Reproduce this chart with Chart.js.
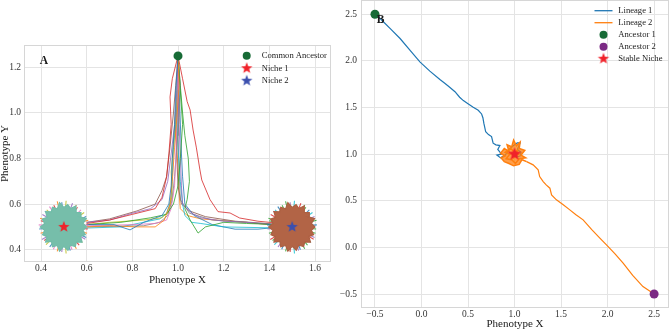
<!DOCTYPE html>
<html>
<head>
<meta charset="utf-8">
<script src="https://cdn.jsdelivr.net/npm/chart.js@4.4.1/dist/chart.umd.min.js"></script>
<style>
  html, body { margin: 0; padding: 0; background: #fff; }
  #wrap { position: relative; width: 669px; height: 330px; overflow: hidden; }
  #chartA { position: absolute; left: 0; top: 0; }
  #chartB { position: absolute; left: 335px; top: 0; }
</style>
</head>
<body>
<div id="wrap">
  <canvas id="chartA" width="336" height="290"></canvas>
  <canvas id="chartB" width="334" height="330"></canvas>
</div>
<script>
// ---- panel A data ----
const commonAncestor = [1.0, 1.25];
const niche1 = [0.5, 0.5];
const niche2 = [1.5, 0.5];

const pathsToNiche1 = [
  [[1,1.25],[0.99,1.1],[0.985,0.95],[0.975,0.8],[0.97,0.68],[0.96,0.6],[0.93,0.55],[0.85,0.52],[0.79,0.487],[0.72,0.51],[0.6,0.51]],
  [[1,1.25],[1.005,1.12],[0.995,0.98],[0.985,0.85],[0.975,0.7],[0.965,0.6],[0.94,0.53],[0.9,0.5],[0.82,0.5],[0.7,0.505],[0.6,0.5]],
  [[1,1.25],[1.01,1.1],[1.02,0.95],[1.01,0.8],[1.0,0.68],[0.98,0.6],[0.95,0.555],[0.88,0.54],[0.75,0.52],[0.6,0.51]],
  [[1,1.25],[0.975,1.15],[0.965,1.07],[0.97,0.95],[0.96,0.82],[0.95,0.72],[0.93,0.63],[0.9,0.58],[0.8,0.555],[0.7,0.53],[0.6,0.515]],
  [[1,1.25],[0.995,1.1],[0.985,0.95],[0.97,0.82],[0.955,0.7],[0.93,0.62],[0.88,0.58],[0.8,0.56],[0.7,0.53],[0.6,0.52]],
  [[1,1.25],[0.99,1.12],[0.98,1.0],[0.965,0.85],[0.95,0.72],[0.93,0.66],[0.9,0.6],[0.82,0.57],[0.7,0.535],[0.6,0.52]],
  [[1,1.25],[1.0,1.1],[0.995,0.95],[0.99,0.8],[0.985,0.68],[0.97,0.58],[0.95,0.53],[0.9,0.515],[0.8,0.51],[0.6,0.505]],
  [[1,1.25],[1.01,1.12],[1.005,0.98],[0.995,0.85],[0.985,0.72],[0.975,0.62],[0.955,0.55],[0.92,0.52],[0.85,0.505],[0.6,0.5]],
  [[1,1.25],[1.0,1.15],[0.99,1.0],[0.98,0.86],[0.97,0.74],[0.975,0.64],[0.96,0.57],[0.93,0.54],[0.85,0.53],[0.7,0.52],[0.6,0.51]],
  [[1,1.25],[0.995,1.1],[0.99,0.96],[0.98,0.84],[0.975,0.72],[0.97,0.62],[0.95,0.56],[0.92,0.535],[0.75,0.5],[0.6,0.495]]
];
const pathsToNiche2 = [
  [[1,1.25],[1.02,1.15],[1.04,1.05],[1.053,1.013],[1.066,0.925],[1.08,0.85],[1.096,0.75],[1.104,0.706],[1.14,0.62],[1.175,0.567],[1.228,0.561],[1.27,0.539],[1.35,0.525],[1.45,0.515]],
  [[1,1.25],[1.01,1.12],[1.02,1.0],[1.03,0.9],[1.045,0.8],[1.05,0.7],[1.04,0.62],[1.03,0.58],[1.053,0.53],[1.088,0.473],[1.12,0.5],[1.2,0.52],[1.3,0.515],[1.45,0.51]],
  [[1,1.25],[1.0,1.1],[1.005,0.95],[1.01,0.8],[1.015,0.68],[1.02,0.6],[1.06,0.56],[1.1,0.54],[1.2,0.525],[1.3,0.52],[1.45,0.51]],
  [[1,1.25],[1.0,1.12],[0.995,0.98],[1.0,0.84],[1.01,0.7],[1.02,0.6],[1.03,0.55],[1.06,0.52],[1.1,0.515],[1.2,0.5],[1.45,0.495]],
  [[1,1.25],[1.005,1.1],[1.01,0.96],[1.015,0.82],[1.02,0.72],[1.03,0.6],[1.07,0.55],[1.15,0.51],[1.25,0.49],[1.35,0.49],[1.45,0.5]],
  [[1,1.25],[1.0,1.05],[1.0,0.9],[1.005,0.75],[1.01,0.62],[1.05,0.56],[1.15,0.53],[1.3,0.52],[1.45,0.505]],
  [[1,1.25],[1.0,1.1],[0.99,0.95],[0.995,0.8],[1.0,0.68],[1.015,0.6],[1.05,0.57],[1.12,0.545],[1.25,0.525],[1.45,0.51]],
  [[1,1.25],[0.995,1.08],[0.99,0.92],[1.0,0.76],[1.005,0.64],[1.01,0.58],[1.04,0.55],[1.1,0.535],[1.3,0.52],[1.45,0.505]]
];

// scatter cloud around each niche (offsets from the niche centre)
const cloudOutline = [
  [0.1,0],[0.084,0.015],[0.098,0.036],[0.074,0.043],[0.075,0.063],[0.054,0.064],
  [0.053,0.092],[0.029,0.081],[0.017,0.098],[0,0.085],[-0.019,0.106],[-0.029,0.079],
  [-0.05,0.086],[-0.055,0.066],[-0.08,0.067],[-0.073,0.042],[-0.094,0.034],[-0.084,0.015],
  [-0.103,0],[-0.084,-0.015],[-0.093,-0.034],[-0.074,-0.043],[-0.08,-0.067],[-0.054,-0.064],
  [-0.05,-0.087],[-0.029,-0.081],[-0.019,-0.106],[0,-0.085],[0.018,-0.102],[0.029,-0.08],
  [0.05,-0.086],[0.055,-0.066],[0.08,-0.067],[0.073,-0.042],[0.094,-0.034],[0.084,-0.015],
  [0.1,0]
];
const cloudTips1 = [[0.107,0.029],[-0.029,0.112],[-0.102,-0.028],[-0.029,-0.107],[0.055,-0.096],[0.102,-0.028],[0.055,0.096],[-0.104,0.038]];
const cloudTips2 = [[0.089,0.063],[0.01,0.115],[-0.075,0.075],[-0.078,-0.078],[0.01,-0.117],[0.081,-0.068]];
const cloudTips3 = [[0.075,0.075],[-0.063,0.089],[-0.11,0.009],[-0.046,-0.098],[0.036,-0.1],[0.108,0.009]];
const cloudTips4 = [[0.038,0.104],[-0.094,0.054],[-0.096,-0.055],[-0.009,-0.11],[0.094,-0.054]];
const cloudTips5 = [[0.098,0.046],[-0.009,0.108],[-0.083,0.069],[-0.108,-0.009],[-0.062,-0.088],[0.028,-0.104],[0.098,-0.046]];
const cloudTips6 = [[0.06,0.086],[-0.044,0.095],[-0.101,0.027],[-0.086,-0.06],[-0.015,-0.104],[0.067,-0.08],[0.105,-0.009]];

const xTicksA = [0.4, 0.6, 0.8, 1.0, 1.2, 1.4, 1.6];
const yTicksA = [0.4, 0.6, 0.8, 1.0, 1.2];

// ---- panel B data ----
const ancestor1 = [-0.5, 2.5];
const ancestor2 = [2.5, -0.5];
const stableNiche = [1.0, 1.0];

const lineage1 = [
  [-0.5,2.5],[-0.45,2.46],[-0.41,2.42],[-0.33,2.34],[-0.23,2.24],[-0.12,2.11],[-0.017,1.99],
  [0.09,1.89],[0.198,1.8],[0.25,1.76],[0.287,1.73],[0.36,1.67],[0.41,1.61],[0.45,1.574],
  [0.5,1.54],[0.556,1.503],[0.61,1.47],[0.646,1.431],[0.66,1.39],[0.67,1.332],[0.69,1.24],
  [0.72,1.21],[0.753,1.188],[0.77,1.117],[0.8,1.1],[0.843,1.092],[0.82,1.05],[0.86,1.0],
  [0.81,0.99],[0.85,0.96],[0.9,0.99],[0.95,1.06],[1.0,1.1],[1.03,1.12],[1.06,1.12],
  [1.03,1.05],[1.07,1.02],[1.06,0.98],[1.02,0.97],[1.0,1.0]
];
const lineage2 = [
  [2.5,-0.5],[2.44,-0.46],[2.38,-0.42],[2.27,-0.3],[2.167,-0.169],[2.08,-0.07],[1.988,0.027],
  [1.917,0.1],[1.83,0.19],[1.737,0.295],[1.66,0.35],[1.594,0.402],[1.52,0.46],[1.45,0.51],
  [1.398,0.563],[1.38,0.635],[1.34,0.67],[1.308,0.706],[1.27,0.76],[1.254,0.831],[1.2,0.885],
  [1.13,0.92]
];
const lineage2Wander = [
  [1.13,0.92],[1.08,0.94],[1.05,0.89],[0.99,0.875],[0.94,0.9],[0.89,0.92],[0.855,0.96],[0.9,0.98],
  [0.85,1.01],[0.89,1.06],[0.94,1.03],[0.92,1.1],[0.97,1.08],[0.99,1.15],[1.02,1.09],[1.06,1.13],
  [1.05,1.06],[1.11,1.04],[1.07,0.99],[1.12,0.96],[1.05,0.95],[1.01,0.9],[0.97,0.94],[0.91,0.95],
  [0.95,1.0],[0.9,1.02],[0.96,1.06],[1.0,1.02],[1.03,1.04],[1.0,0.97],[1.04,1.0],[1.0,1.0]
];

const xTicksB = [-0.5, 0.0, 0.5, 1.0, 1.5, 2.0, 2.5];
const yTicksB = [-0.5, 0.0, 0.5, 1.0, 1.5, 2.0, 2.5];

// ---- helpers ----
const tab10 = ['#1f77b4','#ff7f0e','#2ca02c','#d62728','#9467bd','#8c564b','#e377c2','#7f7f7f','#bcbd22','#17becf'];
const SERIF = '"Liberation Serif", "DejaVu Serif", serif';

function pts(list) { return list.map(p => ({x: p[0], y: p[1]})); }
function around(list, c) { return list.map(p => ({x: c[0] + p[0], y: c[1] + p[1]})); }
function spikes(list, c) {
  const out = [];
  list.forEach(p => {
    out.push({x: c[0], y: c[1]});
    out.push({x: c[0] + p[0], y: c[1] + p[1]});
  });
  out.push({x: c[0], y: c[1]});
  return out;
}
function fmt(v) { return v.toFixed(1).replace('-', '\u2212'); }

function starImage(r, color) {
  const c = document.createElement('canvas');
  const s = Math.ceil(r * 2 + 2);
  c.width = s; c.height = s;
  const g = c.getContext('2d');
  g.fillStyle = color;
  g.beginPath();
  for (let k = 0; k < 10; k++) {
    const rr = k % 2 === 0 ? r : r * 0.42;
    const ang = -Math.PI / 2 + k * Math.PI / 5;
    g.lineTo(s / 2 + rr * Math.cos(ang), s / 2 + rr * Math.sin(ang));
  }
  g.closePath();
  g.fill();
  return c;
}

const RED = '#f0222a', BLUE_STAR = '#3b4fae', GREEN = '#176b36', PURPLE = '#7b2a84';

function line(data, color, order, width, extra) {
  return Object.assign({
    type: 'line', data: data, borderColor: color, borderWidth: width || 1,
    pointRadius: 0, tension: 0, fill: false, order: order
  }, extra || {});
}
function marker(p, style, color, radius) {
  return {
    type: 'line', data: pts([p]), showLine: false, order: 0,
    pointStyle: style, pointRadius: radius, pointBackgroundColor: color,
    pointBorderColor: color, pointBorderWidth: 0
  };
}

// frame, panel letter and in-axes legend
const decor = {
  id: 'decor',
  beforeDatasetsDraw(chart) {
    const {ctx, chartArea: a} = chart;
    ctx.save();
    ctx.strokeStyle = '#d6d6d6';
    ctx.lineWidth = 1;
    ctx.strokeRect(a.left + 0.5, a.top + 0.5, a.right - a.left - 1, a.bottom - a.top - 1);
    ctx.restore();
  },
  afterDraw(chart, args, o) {
    const ctx = chart.ctx;
    ctx.save();
    ctx.fillStyle = '#1a1a1a';
    ctx.font = 'bold 11.5px ' + SERIF;
    ctx.textAlign = 'center';
    ctx.textBaseline = 'middle';
    ctx.fillText(o.letter, o.letterX, o.letterY);
    ctx.font = '8.6px ' + SERIF;
    ctx.textAlign = 'left';
    o.items.forEach((it, i) => {
      const y = o.y + i * o.step;
      if (it.kind === 'line') {
        ctx.strokeStyle = it.color; ctx.lineWidth = 1.3;
        ctx.beginPath(); ctx.moveTo(o.mx - 9, y); ctx.lineTo(o.mx + 9, y); ctx.stroke();
      } else if (it.kind === 'circle') {
        ctx.fillStyle = it.color;
        ctx.beginPath(); ctx.arc(o.mx, y, 4, 0, Math.PI * 2); ctx.fill();
      } else {
        const img = starImage(6, it.color);
        ctx.drawImage(img, o.mx - img.width / 2, y - img.height / 2);
      }
      ctx.fillStyle = '#222';
      ctx.fillText(it.text, o.tx, y + 0.5);
    });
    ctx.restore();
  }
};

function axis(min, max, ticks, title, fitKey, fitVal, pad, titleOpts) {
  return {
    type: 'linear', min: min, max: max,
    afterBuildTicks: s => { s.ticks = ticks.map(v => ({value: v})); },
    afterFit: s => {
      s[fitKey] = fitVal;
      s.paddingTop = 0; s.paddingBottom = 0; s.paddingLeft = 0; s.paddingRight = 0;
    },
    grid: {color: '#e4e4e4', lineWidth: 1, drawTicks: false},
    border: {display: false},
    ticks: {callback: v => fmt(v), color: '#333', padding: pad, font: {family: SERIF, size: 9.5}},
    title: Object.assign({display: !!title, text: title, color: '#1a1a1a',
      font: {family: SERIF, size: 11, lineHeight: 1}, padding: 0}, titleOpts || {})
  };
}

const baseOptions = {
  responsive: false, animation: false, devicePixelRatio: 1,
  plugins: {legend: {display: false}, tooltip: {enabled: false}}
};

// ---- panel A ----
const dsA = [];
dsA.push(marker(niche1, starImage(6, RED), RED, 6));
dsA.push(marker(niche2, starImage(6, BLUE_STAR), BLUE_STAR, 6));
dsA.push(marker(commonAncestor, 'circle', GREEN, 4.5));

dsA.push(line(around(cloudOutline, niche1), 'rgb(112,188,168)', 3, 1.2, {fill: 'shape', backgroundColor: 'rgb(118,190,170)'}));
dsA.push(line(around(cloudOutline, niche2), 'rgb(172,96,66)', 3, 1.2, {fill: 'shape', backgroundColor: 'rgb(178,100,70)'}));

const tipSets = [cloudTips1, cloudTips2, cloudTips3, cloudTips4, cloudTips5, cloudTips6];
const tipColors1 = ['#ff7f0e', '#bcbd22', '#e377c2', '#9467bd', '#1f77b4', '#d62728'];
const tipColors2 = ['#2ca02c', '#17becf', '#1f77b4', '#d62728', '#9467bd', '#2ca02c'];
tipSets.forEach((t, i) => dsA.push(line(spikes(t, niche1), tipColors1[i] + 'd0', 4, 1.1)));
tipSets.forEach((t, i) => dsA.push(line(spikes(t, niche2), tipColors2[i] + 'd0', 4, 1.1)));

pathsToNiche1.forEach((p, i) => dsA.push(line(pts(p), tab10[i % 10] + 'cc', 5, 1)));
const colors2 = [3, 2, 4, 9, 0, 7, 5, 1];
pathsToNiche2.forEach((p, i) => dsA.push(line(pts(p), tab10[colors2[i]] + 'cc', 5, 1)));

new Chart(document.getElementById('chartA'), {
  type: 'line',
  data: {datasets: dsA},
  options: Object.assign({}, baseOptions, {
    layout: {autoPadding: false, padding: {top: 45, left: 0, right: 5, bottom: 0}},
    scales: {
      x: axis(0.3255, 1.67, xTicksA, 'Phenotype X', 'height', 28, 1, {padding: {top: 0, bottom: 4}}),
      y: axis(0.346, 1.298, yTicksA, 'Phenotype Y', 'width', 24, 3)
    },
    plugins: Object.assign({}, baseOptions.plugins, {
      decor: {
        letter: 'A', letterX: 44, letterY: 61.5,
        mx: 246.7, tx: 261.7, y: 55.7, step: 12.5,
        items: [
          {kind: 'circle', color: GREEN, text: 'Common Ancestor'},
          {kind: 'star', color: RED, text: 'Niche 1'},
          {kind: 'star', color: BLUE_STAR, text: 'Niche 2'}
        ]
      }
    })
  }),
  plugins: [decor]
});

// ---- panel B ----
const dsB = [
  marker(stableNiche, starImage(7, RED), RED, 7),
  marker(ancestor1, 'circle', GREEN, 4.5),
  marker(ancestor2, 'circle', PURPLE, 4.5),
  line(pts(lineage2Wander), '#ff7f0e', 2, 1.5, {fill: 'shape', backgroundColor: 'rgba(255,127,14,0.75)'}),
  line(pts(lineage2), '#ff7f0e', 2, 1.2),
  line(pts(lineage1), '#1f77b4', 3, 1.2)
];

new Chart(document.getElementById('chartB'), {
  type: 'line',
  data: {datasets: dsB},
  options: Object.assign({}, baseOptions, {
    layout: {autoPadding: false, padding: 0},
    scales: {
      x: axis(-0.65, 2.66, xTicksB, 'Phenotype X', 'height', 22, 1),
      y: axis(-0.65, 2.653, yTicksB, '', 'width', 26, 4)
    },
    plugins: Object.assign({}, baseOptions.plugins, {
      decor: {
        letter: 'B', letterX: 45.5, letterY: 20,
        mx: 268.5, tx: 283.3, y: 10.7, step: 12,
        items: [
          {kind: 'line', color: '#1f77b4', text: 'Lineage 1'},
          {kind: 'line', color: '#ff7f0e', text: 'Lineage 2'},
          {kind: 'circle', color: GREEN, text: 'Ancestor 1'},
          {kind: 'circle', color: PURPLE, text: 'Ancestor 2'},
          {kind: 'star', color: RED, text: 'Stable Niche'}
        ]
      }
    })
  }),
  plugins: [decor]
});
</script>
</body>
</html>
